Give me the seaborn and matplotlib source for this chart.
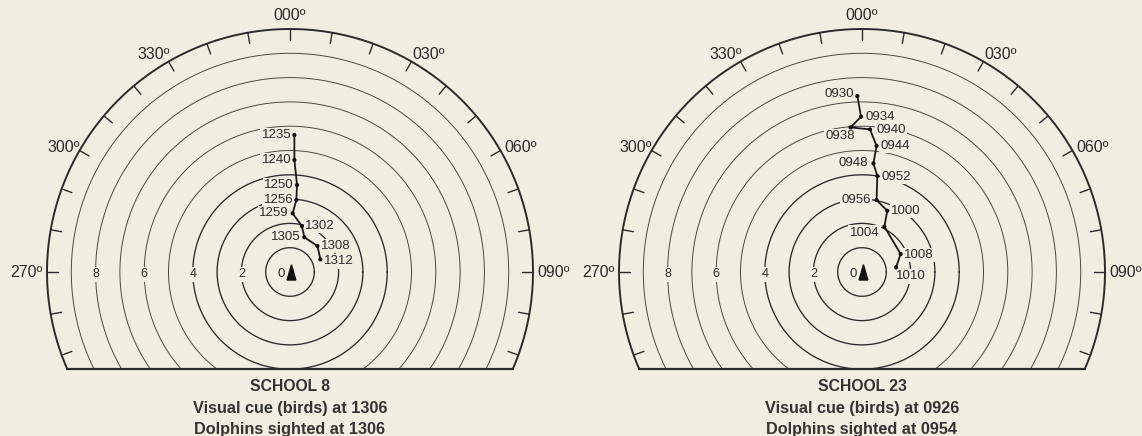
import numpy as np
import pandas as pd
import matplotlib
matplotlib.use("Agg")
import matplotlib.pyplot as plt
import seaborn as sns

# ---------------- data ----------------
ring_radii = [1, 2, 3, 4, 5, 6, 7, 8, 9]
ring_labels = [0, 2, 4, 6, 8]
rim_radius = 10
bearing_labels = ["270º", "300º", "330º", "000º", "030º", "060º", "090º"]
bearing_values = [270, 300, 330, 0, 30, 60, 90]

school8_times = ["1235", "1240", "1250", "1256", "1259", "1302", "1305", "1308", "1312"]
school8_x = [0.18, 0.18, 0.29, 0.26, 0.11, 0.49, 0.59, 1.13, 1.25]
school8_y = [5.64, 4.61, 3.58, 2.96, 2.41, 1.89, 1.43, 1.07, 0.52]

school23_times = ["0930", "0934", "0938", "0940", "0944", "0948", "0952", "0956",
                  "1000", "1004", "1008", "1010"]
school23_x = [-0.19, -0.04, -0.47, 0.33, 0.60, 0.47, 0.63, 0.60, 1.04, 0.92, 1.59, 1.40]
school23_y = [7.24, 6.39, 5.95, 5.87, 5.19, 4.47, 3.95, 2.96, 2.52, 1.87, 0.74, 0.19]

school8_text = ["SCHOOL 8", "Visual cue (birds) at 1306", "Dolphins sighted at 1306"]
school23_text = ["SCHOOL 23", "Visual cue (birds) at 0926", "Dolphins sighted at 0954"]

# label placement (pixel offsets, alignment) for the track labels
school8_lab = [(-3, 0, "right"), (-3, 0, "right"), (-3, 0, "right"), (-3, 0, "right"),
               (-4, 0, "right"), (3, 0, "left"), (-4, 0, "right"), (3, 0, "left"),
               (4, -2, "left")]
school23_lab = [(-3, 2, "right"), (4, 0, "left"), (4, -9, "right"), (6, -1, "left"),
                (4, 0, "left"), (-5, 0, "right"), (4, -1, "left"), (-6, 0, "right"),
                (4, 0, "left"), (-5, -6, "right"), (3, -1, "left"), (0, -9, "left")]

# ---------------- style ----------------
BG = "#efeee0"
INK = "#2b2b2b"
sns.set_theme(style="white")
plt.rcParams["font.family"] = ["Liberation Sans", "DejaVu Sans"]
plt.rcParams["figure.facecolor"] = BG

PX = 24.3          # pixels per unit
BOTTOM = -4.0      # cut-off line (units)
DEG_FS = 11.5
TRK_FS = 9.5

fig = plt.figure(figsize=(11.42, 4.36), dpi=100)
fig.patch.set_facecolor(BG)


def draw_panel(ax, cx_px, times, xs, ys, labs, texts):
    ax.set_facecolor(BG)

    # range rings, cut at the bottom line
    for r in ring_radii:
        if r <= abs(BOTTOM):
            t = np.linspace(0, 2 * np.pi, 400)
        else:
            a = np.arcsin(-BOTTOM / r)
            t = np.linspace(-a, np.pi + a, 400)
        lw = 0.95 if r <= 4 else 0.7
        col = INK if r <= 4 else "#4a4a44"
        ax.plot(r * np.cos(t), r * np.sin(t), color=col, lw=lw, zorder=1)

    # rim
    a = np.arcsin(-BOTTOM / rim_radius)
    t = np.linspace(-a, np.pi + a, 600)
    ax.plot(rim_radius * np.cos(t), rim_radius * np.sin(t), color=INK, lw=1.4, zorder=2)
    xb = np.sqrt(rim_radius ** 2 - BOTTOM ** 2)
    ax.plot([-xb, xb], [BOTTOM, BOTTOM], color=INK, lw=1.6, zorder=2)

    # rim ticks every 10 degrees
    for b in range(0, 360, 10):
        th = np.deg2rad(90 - b)
        if rim_radius * np.sin(th) < BOTTOM + 0.3:
            continue
        r0, r1 = rim_radius, rim_radius - 0.45
        ax.plot([r0 * np.cos(th), r1 * np.cos(th)], [r0 * np.sin(th), r1 * np.sin(th)],
                color=INK, lw=1.0, zorder=2)

    # bearing labels
    place = {0: ((0, 6), "center", "bottom"), 330: ((1, 0), "right", "bottom"),
             30: ((1, 0), "left", "bottom"), 300: ((0, 3), "right", "center"),
             60: ((4, 3), "left", "center"), 270: ((-4, 0), "right", "center"),
             90: ((4, 0), "left", "center")}
    for lab, b in zip(bearing_labels, bearing_values):
        th = np.deg2rad(90 - b)
        px, py = rim_radius * np.cos(th), rim_radius * np.sin(th)
        off, ha, va = place[b]
        ax.annotate(lab, (px, py), xytext=off, textcoords="offset pixels",
                    ha=ha, va=va, fontsize=DEG_FS, color=INK)

    # ring distance labels
    for rl in ring_labels:
        if rl == 0:
            ax.text(-0.36, -0.1, "0", ha="center", va="center", fontsize=9.5, color=INK, zorder=4)
        else:
            ax.text(-rl, -0.1, str(rl), ha="center", va="center", fontsize=9, color=INK,
                    zorder=4, bbox=dict(boxstyle="square,pad=0.15", fc=BG, ec="none"))

    # ship arrow
    ax.add_patch(plt.Polygon([[0.06, 0.3], [-0.12, -0.33], [0.24, -0.33]],
                             closed=True, color="#111", zorder=5))

    # track
    df = pd.DataFrame({"x": xs, "y": ys, "time": times})
    sns.lineplot(data=df, x="x", y="y", sort=False, estimator=None, ax=ax,
                 color="#1a1a1a", lw=1.3, zorder=6)
    sns.scatterplot(data=df, x="x", y="y", ax=ax, color="#111", s=9,
                    edgecolor="none", zorder=7)
    ax.axis("off")
    ax.set_xlim(-cx_px / PX, (571 - cx_px) / PX)
    ax.set_ylim(-164 / PX, 272 / PX)

    for tm, x, y, (ox, oy, ha) in zip(times, xs, ys, labs):
        ax.annotate(tm, (x, y), xytext=(ox, oy), textcoords="offset pixels",
                    ha=ha, va="center", fontsize=TRK_FS, color=INK, zorder=5,
                    bbox=dict(boxstyle="square,pad=0.1", fc=BG, ec="none"))

    # caption
    ys_cap = [-4.73, -5.6, -6.5]
    sizes = [11.3, 11.7, 11.7]
    for s, yc, fs in zip(texts, ys_cap, sizes):
        ax.text(0, yc, s, ha="center", va="center", fontsize=fs, fontweight="bold",
                color="#333333")


ax1 = fig.add_axes([0, 0, 0.5, 1])
ax2 = fig.add_axes([0.5, 0, 0.5, 1])
draw_panel(ax1, 290, school8_times, school8_x, school8_y, school8_lab, school8_text)
draw_panel(ax2, 291, school23_times, school23_x, school23_y, school23_lab, school23_text)

fig.savefig("out.png", dpi=100, facecolor=BG)
